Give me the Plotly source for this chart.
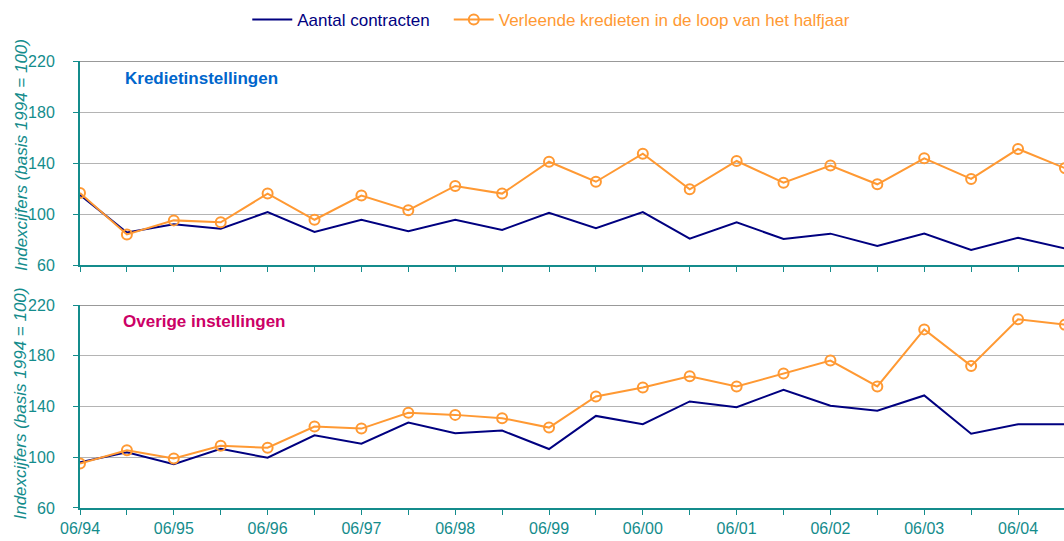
import plotly.graph_objects as go

periods = ["06/94", "12/94", "06/95", "12/95", "06/96", "12/96", "06/97", "12/97",
           "06/98", "12/98", "06/99", "12/99", "06/00", "12/00", "06/01", "12/01",
           "06/02", "12/02", "06/03", "12/03", "06/04", "12/04"]

krediet_contracten = [115, 85.5, 92, 88.5, 101.5, 86, 95.5, 86.5, 95.5, 87.5, 101,
                      88.8, 101.5, 80.6, 93.5, 80.4, 84.6, 75, 84.6, 71.8, 81.4, 73]
krediet_kredieten = [116.5, 84, 95, 93.5, 116, 95.5, 114.5, 103, 122, 116, 141,
                     125.3, 147.3, 119.4, 141.6, 124.6, 138, 123.3, 143.7, 127.5, 151, 136]

overige_contracten = [96, 104, 94.5, 106.7, 99.6, 117.3, 110.7, 127.3, 118.9, 121, 106.5,
                      132.6, 126, 144, 139.5, 153.2, 140.6, 136.6, 148.7, 118.6, 126, 126]
overige_kredieten = [95, 105.5, 99, 109, 107.5, 124.2, 122.6, 135, 133.4, 130.8, 123.4,
                     147.9, 155, 163.8, 155.8, 166.1, 176.2, 155.8, 200.8, 172, 208.7, 204.5]

y_ticks = [60, 100, 140, 180, 220]

NAVY = "#000080"
ORANGE = "#FF9933"
TEAL = "#148C8C"
FONT = "Liberation Sans, Arial, sans-serif"

x_idx = list(range(len(periods)))
tick_text = [p if p.startswith("06") else "" for p in periods]

fig = go.Figure()

panels = [("y", krediet_contracten, krediet_kredieten, True),
          ("y2", overige_contracten, overige_kredieten, False)]
for yref, contr, kred, show in panels:
    fig.add_trace(go.Scatter(
        x=x_idx, y=contr, mode="lines", yaxis=yref, xaxis="x" if yref == "y" else "x2",
        line=dict(color=NAVY, width=2),
        name=f"<span style='color:{NAVY}'>Aantal contracten</span>&nbsp;&nbsp;&nbsp;",
        showlegend=show, legendgroup="a"))
    fig.add_trace(go.Scatter(
        x=x_idx, y=kred, mode="lines+markers", yaxis=yref, xaxis="x" if yref == "y" else "x2",
        line=dict(color=ORANGE, width=2),
        marker=dict(symbol="circle-open", size=10, color=ORANGE, line=dict(width=2)),
        name=f"<span style='color:{ORANGE}'>Verleende kredieten in de loop van het halfjaar</span>",
        showlegend=show, legendgroup="b"))

xaxis_common = dict(
    range=[0, 20.98], tickvals=x_idx, showgrid=False, zeroline=False,
    showline=True, linecolor=TEAL, linewidth=2,
    ticks="outside", ticklen=5, tickcolor=TEAL, tickwidth=1,
    tickfont=dict(family=FONT, size=16, color=TEAL),
)
yaxis_common = dict(
    range=[60, 220], tickvals=y_ticks, showgrid=True, gridcolor="#B4B4B4", gridwidth=1,
    zeroline=False, showline=True, linecolor=TEAL, linewidth=2,
    ticks="outside", ticklen=5, tickcolor=TEAL, tickwidth=1,
    tickfont=dict(family=FONT, size=16, color=TEAL), ticklabelstandoff=15,
)

fig.update_layout(
    width=1064, height=541,
    margin=dict(l=80, r=0, t=61, b=33, autoexpand=False),
    paper_bgcolor="white", plot_bgcolor="white",
    font=dict(family=FONT, size=16, color=TEAL),
    xaxis=dict(xaxis_common, domain=[0, 1], anchor="y", ticktext=[""] * len(x_idx)),
    yaxis=dict(yaxis_common, domain=[0.5436, 1], anchor="x"),
    xaxis2=dict(xaxis_common, domain=[0, 1], anchor="y2", ticktext=tick_text),
    yaxis2=dict(yaxis_common, domain=[0, 0.4541], anchor="x2"),
    legend=dict(orientation="h", x=0.17, xanchor="left", y=1.092, yanchor="middle",
                font=dict(family=FONT, size=17), bgcolor="rgba(0,0,0,0)",
                itemwidth=40, tracegroupgap=0),
    showlegend=True,
)

# top border lines (gray) at 220
for yr in ["y", "y2"]:
    fig.add_shape(type="line", xref="paper", x0=0, x1=1, yref=yr, y0=220, y1=220,
                  line=dict(color="#999999", width=2), layer="below")

fig.add_annotation(text="<b>Kredietinstellingen</b>", xref="paper", yref="y domain",
                   x=0, y=1, xshift=43, yshift=-17, xanchor="left", yanchor="middle",
                   showarrow=False, font=dict(family=FONT, size=17, color="#0066CC"))
fig.add_annotation(text="<b>Overige instellingen</b>", xref="paper", yref="y2 domain",
                   x=0, y=1, xshift=41, yshift=-16, xanchor="left", yanchor="middle",
                   showarrow=False, font=dict(family=FONT, size=17, color="#CC0066"))

for yr, ys in [("y domain", 8), ("y2 domain", 3)]:
    fig.add_annotation(text="<i>Indexcijfers (basis 1994 = 100)</i>", xref="paper", yref=yr,
                       x=0, y=0.5, xshift=-59, yshift=ys, xanchor="center", yanchor="middle",
                       textangle=-90, showarrow=False,
                       font=dict(family=FONT, size=17, color=TEAL))

fig.write_html("out.html", config={"displayModeBar": False},
               post_script="document.body.style.margin='0';document.body.style.overflow='hidden';")
